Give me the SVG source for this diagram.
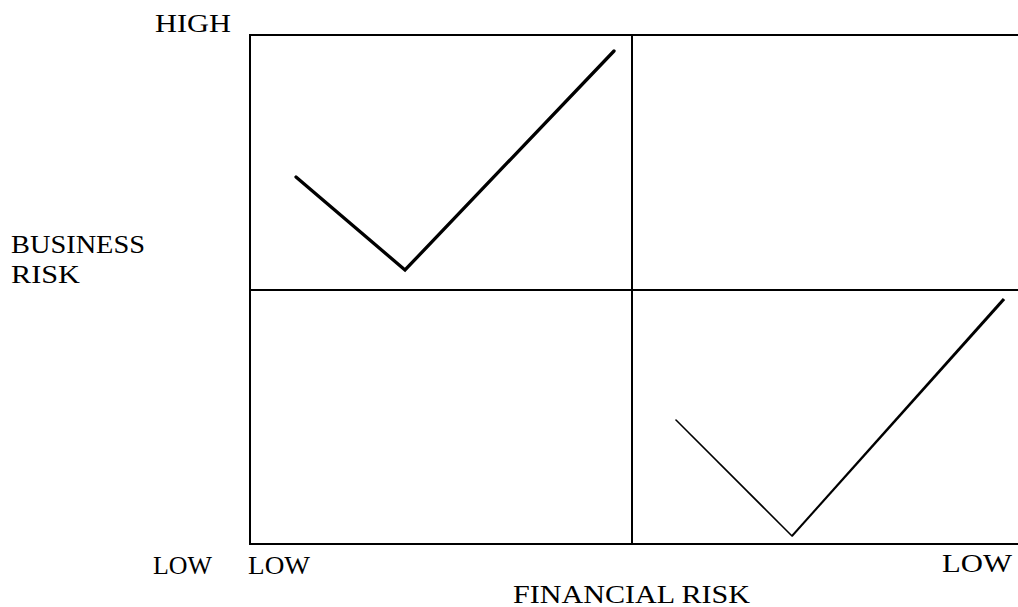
<svg xmlns="http://www.w3.org/2000/svg" width="1018" height="607" viewBox="0 0 1018 607">
<style>
.ax{stroke:#000;stroke-width:2;fill:none}
.cv{stroke:#000;fill:none;stroke-linecap:round;stroke-linejoin:miter}
.t{font-family:"Liberation Serif","Times New Roman",serif;font-size:25px;fill:#000}
</style>
<rect width="1018" height="607" fill="#fff"/>
<g id="grid">
<line class="ax" x1="249" y1="35" x2="1018" y2="35"/>
<line class="ax" x1="250" y1="35" x2="250" y2="545"/>
<line class="ax" x1="249" y1="290" x2="1018" y2="290"/>
<line class="ax" x1="632" y1="35" x2="632" y2="545"/>
<line class="ax" x1="249" y1="544" x2="1018" y2="544"/>
</g>
<g id="curve-high">
<polyline class="cv" stroke-width="3.3" points="296,177 405,270 614,51"/>
</g>
<g id="curve-low">
<polyline class="cv" stroke-width="1.6" points="676,420 792,536"/>
<polygon fill="#000" points="791.3,535.3 792.7,536.7 1005.2,300 1002.8,298"/>
</g>
<g id="labels">
<text class="t" x="155" y="32" textLength="76" lengthAdjust="spacingAndGlyphs">HIGH</text>
<text class="t" x="11" y="253" textLength="134" lengthAdjust="spacingAndGlyphs">BUSINESS</text>
<text class="t" x="11" y="283" textLength="69" lengthAdjust="spacingAndGlyphs">RISK</text>
<text class="t" x="153" y="574" textLength="59" lengthAdjust="spacingAndGlyphs">LOW</text>
<text class="t" x="248" y="574" textLength="62" lengthAdjust="spacingAndGlyphs">LOW</text>
<text class="t" x="942" y="572" textLength="70" lengthAdjust="spacingAndGlyphs">LOW</text>
<text class="t" x="513" y="603" textLength="237" lengthAdjust="spacingAndGlyphs">FINANCIAL RISK</text>
</g>
</svg>
